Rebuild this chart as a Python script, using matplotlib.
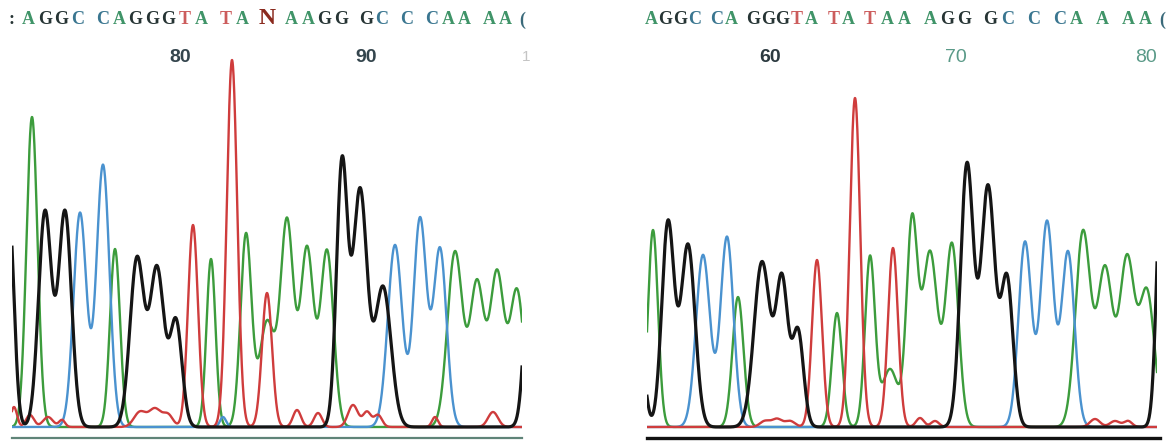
import numpy as np
import matplotlib
matplotlib.use("Agg")
import matplotlib.pyplot as plt
from matplotlib.lines import Line2D

# ===================== DATA =====================
# Each channel is a list of peaks: centre (scan), height (signal), sigma (scans)
# ---- left trace (heterozygous position "N") ----
left_G_center = [9, 45, 65, 137, 157, 176, 342, 360, 383, 532]
left_G_height = [215, 215, 215, 168, 158, 105, 262, 236, 140, 240]
left_G_sigma = [5.0, 6.5, 6.5, 7.0, 7.0, 6.0, 5.5, 7.0, 8.0, 6.0]

left_A_center = [32, 115, 211, 246, 267, 287, 307, 327, 455, 477, 497, 517]
left_A_height = [310, 178, 168, 192, 105, 205, 178, 176, 175, 143, 153, 136]
left_A_sigma = [5.5, 5.0, 4.5, 5.5, 7.5, 6.5, 6.5, 6.5, 7.5, 7.0, 7.0, 7.0]

left_C_center = [80, 103, 223, 395, 420, 440]
left_C_height = [214, 262, 10, 182, 208, 178]
left_C_sigma = [6.5, 6.5, 3.0, 7.2, 6.5, 6.5]

left_T_center = [14, 30, 48, 62, 140, 155, 168, 193, 232, 267, 297, 318, 353, 367, 378, 435, 493]
left_T_height = [20, 12, 10, 7, 15, 18, 12, 202, 367, 134, 17, 14, 22, 15, 12, 10, 15]
left_T_sigma = [3, 4, 5, 3, 6, 6, 5, 5.0, 5.2, 5.0, 4, 4, 5, 4, 4, 3, 5]

# ---- right trace (homozygous T) ----
right_G_center = [640, 668, 688, 762, 782, 798, 967, 988, 1007, 1162]
right_G_height = [80, 204, 182, 165, 145, 95, 262, 240, 147, 270]
right_G_sigma = [5.0, 6.2, 7.0, 8.0, 6.0, 5.5, 6.5, 7.0, 6.0, 5.0]

right_A_center = [653, 738, 837, 870, 890, 912, 930, 952, 1083, 1105, 1127, 1147]
right_A_height = [197, 130, 114, 169, 58, 202, 175, 182, 195, 157, 167, 134]
right_A_sigma = [5.0, 5.5, 5.0, 5.0, 8.0, 5.5, 7.5, 6.5, 7.5, 7.5, 7.5, 7.5]

right_C_center = [703, 727, 1025, 1047, 1068]
right_C_height = [172, 190, 185, 205, 175]
right_C_sigma = [7.0, 6.5, 6.5, 6.5, 6.5]

right_T_center = [765, 777, 790, 817, 855, 893, 920, 935, 1095, 1115, 1128]
right_T_height = [6, 8, 6, 167, 329, 179, 9, 6, 8, 6, 6]
right_T_sigma = [5, 5, 5, 5.0, 5.2, 5.0, 4, 4, 5, 5, 4]

# ---- base calls and position ruler ----
left_sequence = ":AGGC CAGGGTA TA N AAGG GC C CAA AA("
right_sequence = "AGGC CA GGGTA TA TAA AGG GC C CA A AA("
left_ruler_labels = ["80", "90", "1"]
right_ruler_labels = ["60", "70", "80"]

# ===================== STYLE / LAYOUT =====================
W, H, DPI = 1169, 442, 100
trace_colors = {"A": "#3c9c3c", "C": "#4a92cf", "T": "#cf3c3c", "G": "#151515"}
letter_colors = {"A": "#3f9468", "C": "#3a7690", "T": "#cc5c5c", "G": "#263434",
                 ":": "#263434", "(": "#3a6a7a", "N": "#8a2a1e"}
LETTER_SIZE = 13

fig = plt.figure(figsize=(W / DPI, H / DPI), dpi=DPI)
fig.patch.set_facecolor("white")


def fx(px):
    return px / W


def fy(py):
    return 1 - py / H


def trace(x, centers, heights, sigmas):
    c = np.asarray(centers, float)[:, None]
    h = np.asarray(heights, float)[:, None]
    s = np.asarray(sigmas, float)[:, None]
    return (h * np.exp(-((x[None, :] - c) ** 2) / (2 * s ** 2))).sum(axis=0)


def panel(x_lo, x_hi, channels):
    bottom_px, top_px = 432, 40
    ax = fig.add_axes([fx(x_lo), fy(bottom_px), fx(x_hi - x_lo), (bottom_px - top_px) / H])
    ax.set_xlim(x_lo, x_hi)
    ax.set_ylim(-5, 387)
    ax.axis("off")
    x = np.linspace(x_lo - 20, x_hi + 20, 3000)
    for base in ["A", "C", "T", "G"]:
        cen, hgt, sig = channels[base]
        lw = 2.3 if base == "G" else 1.7
        ax.plot(x, trace(x, cen, hgt, sig), color=trace_colors[base], lw=lw,
                solid_joinstyle="round")
    return ax


panel(12, 522, {"G": (left_G_center, left_G_height, left_G_sigma),
                "A": (left_A_center, left_A_height, left_A_sigma),
                "C": (left_C_center, left_C_height, left_C_sigma),
                "T": (left_T_center, left_T_height, left_T_sigma)})
panel(647, 1157, {"G": (right_G_center, right_G_height, right_G_sigma),
                  "A": (right_A_center, right_A_height, right_A_sigma),
                  "C": (right_C_center, right_C_height, right_C_sigma),
                  "T": (right_T_center, right_T_height, right_T_sigma)})

# bottom rules under each trace
fig.add_artist(Line2D([fx(12), fx(522)], [fy(438), fy(438)], color="#5f8478", lw=1.6))
fig.add_artist(Line2D([fx(647), fx(1160)], [fy(438), fy(438)], color="#111111", lw=2.4))


def draw_sequence(seq, segments):
    """segments: list of (start_index, x_start, letter_advance)."""
    bounds = [s[0] for s in segments] + [len(seq)]
    for k, (i0, x, w) in enumerate(segments):
        for ch in seq[i0:bounds[k + 1]]:
            if ch == " ":
                x += w / 2
                continue
            if ch == "N":
                fig.text(fx(x), fy(18), ch, ha="center", va="center",
                         fontsize=LETTER_SIZE + 4, fontweight="bold",
                         family="Liberation Serif", color=letter_colors[ch])
            else:
                fig.text(fx(x), fy(20), ch, ha="center", va="center",
                         fontsize=LETTER_SIZE, fontweight="bold",
                         family="Liberation Serif",
                         color=letter_colors.get(ch, "#263434"))
            x += w


draw_sequence(left_sequence, [(0, 12, 16.45)])
split = right_sequence.index("TAA")
draw_sequence(right_sequence, [(0, 651, 14.6), (split, 870, 17.2)])

# position ruler labels
for lab, xp, col, wt, fs in zip(left_ruler_labels, [180, 366, 526],
                                ["#34454d", "#34454d", "#c4c4c4"],
                                ["bold", "bold", "normal"], [14, 14, 11]):
    fig.text(fx(xp), fy(57), lab, ha="center", va="center", fontsize=fs,
             fontweight=wt, family="Liberation Sans", color=col)
for lab, xp, col, wt in zip(right_ruler_labels, [770, 956, 1146],
                            ["#2c3a40", "#5a9a88", "#5a9a88"],
                            ["bold", "normal", "normal"]):
    fig.text(fx(xp), fy(57), lab, ha="center", va="center", fontsize=14,
             fontweight=wt, family="Liberation Sans", color=col)

fig.savefig("out.png", dpi=DPI, facecolor="white")
